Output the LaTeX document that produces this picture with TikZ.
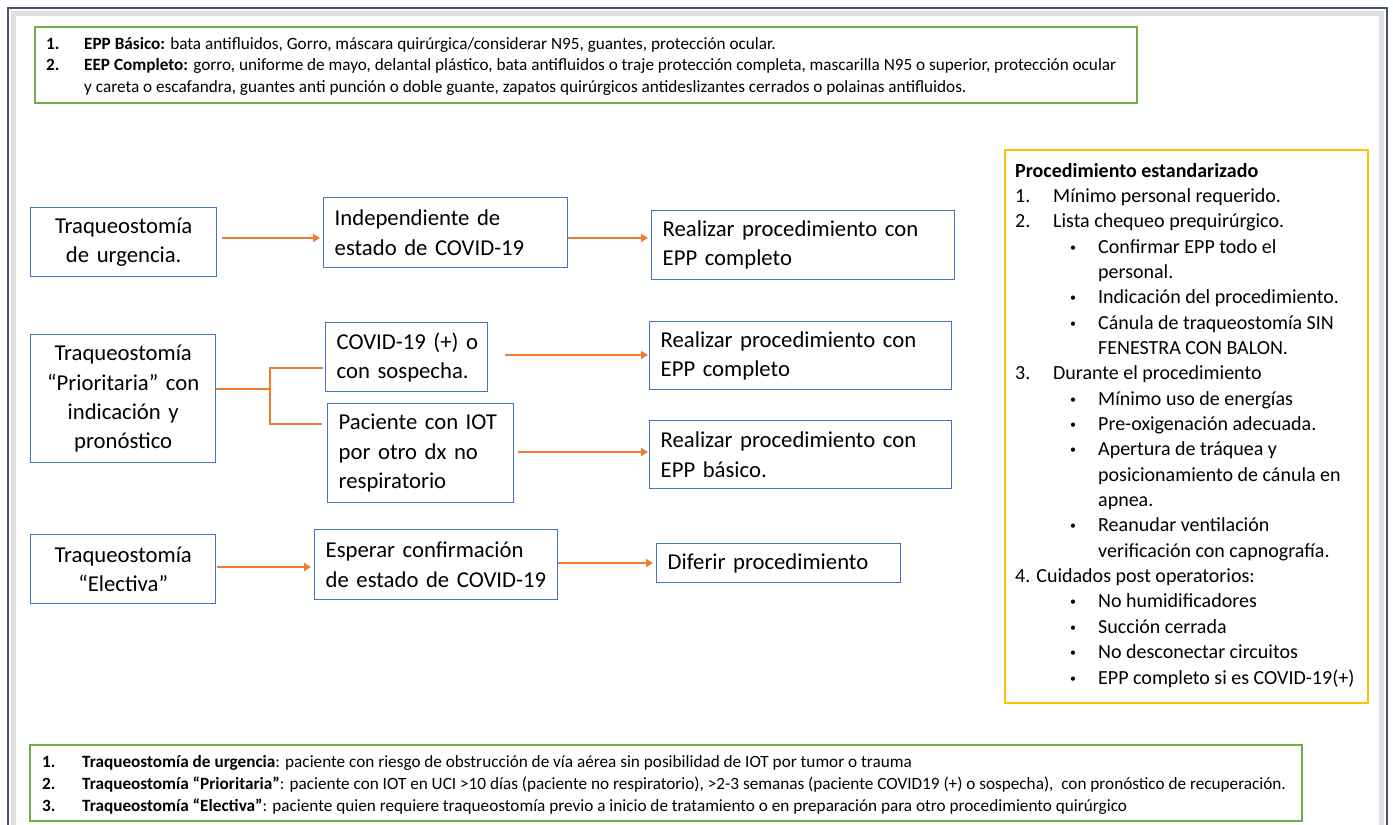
\documentclass[tikz,border=0pt]{standalone}
\usepackage{fontspec}
\setmainfont{Carlito}
\usetikzlibrary{arrows.meta}
\definecolor{boxblue}{HTML}{4472C4}
\definecolor{arrorange}{HTML}{ED7D31}
\definecolor{notegreen}{HTML}{70AD47}
\definecolor{noteyellow}{HTML}{FFC000}
\definecolor{framecol}{HTML}{44546A}
\newcommand{\flowfont}{\fontsize{22.7}{29.2}\selectfont}
\newcommand{\sidefont}{\fontsize{20}{25}\selectfont}
\newcommand{\notefont}{\fontsize{17.2}{21}\selectfont}
\tikzset{
  fbox/.style={draw=boxblue, line width=1.4pt, inner xsep=11pt, inner ysep=0pt,
    anchor=north west, font=\flowfont, align=left},
  cbox/.style={fbox, align=center},
  arr/.style={draw=arrorange, line width=2.2pt, -{Triangle[length=7pt,width=8pt]}},
  conn/.style={draw=arrorange, line width=2.2pt},
  noteline/.style={anchor=base west, inner sep=0pt, font=\notefont},
  sideline/.style={anchor=base west, inner sep=0pt, font=\sidefont},
}
\newcommand{\nb}[1]{\makebox[38pt][l]{#1}}
\newcommand{\bl}{\hspace*{55pt}\makebox[28pt][l]{\raisebox{2pt}{\scalebox{0.6}{\textbullet}}}}
\newcommand{\cl}{\hspace*{83pt}}
\begin{document}
\begin{tikzpicture}[x=1pt,y=-1pt]
\clip (0,0) rectangle (1393,825);
\fill[white] (0,0) rectangle (1393,825);
% outer frame with shadow
\draw[black!12, line width=5pt] (13,840) -- (13,13) -- (1381,13) -- (1381,840);
\draw[framecol, line width=2.8pt] (8,840) -- (8,8) -- (1387,8) -- (1387,840);

% top legend
\draw[notegreen, line width=1.2pt] (35,27) rectangle (1137,103);
\node[noteline] (tn1) at (46,49) {\textbf{1.}};
\node[noteline] (tl1) at (84,49) {\textbf{EPP Básico:} bata antifluidos, Gorro, máscara quirúrgica/considerar N95, guantes, protección ocular.};
\node[noteline] (tn2) at (46,70) {\textbf{2.}};
\node[noteline] (tl2) at (84,70) {\textbf{EEP Completo:} gorro, uniforme de mayo, delantal plástico, bata antifluidos o traje protección completa, mascarilla N95 o superior, protección ocular};
\node[noteline] (tl3) at (84,92) {y careta o escafandra, guantes anti punción o doble guante, zapatos quirúrgicos antideslizantes cerrados o polainas antifluidos.};

% bottom legend
\draw[notegreen, line width=1.2pt] (30,745) rectangle (1302,821);
\node[noteline] (bn1) at (42,767) {\textbf{1.}};
\node[noteline] (bl1) at (82,767) {\textbf{Traqueostomía de urgencia}: paciente con riesgo de obstrucción de vía aérea sin posibilidad de IOT por tumor o trauma};
\node[noteline] (bn2) at (42,789) {\textbf{2.}};
\node[noteline] (bl2) at (82,789) {\textbf{Traqueostomía “Prioritaria”}: paciente con IOT en UCI >10 días (paciente no respiratorio), >2-3 semanas (paciente COVID19 (+) o sospecha),\ \ con pronóstico de recuperación.};
\node[noteline] (bn3) at (42,811) {\textbf{3.}};
\node[noteline] (bl3) at (82,811) {\textbf{Traqueostomía “Electiva”}: paciente quien requiere traqueostomía previo a inicio de tratamiento o en preparación para otro procedimiento quirúrgico};

% right panel
\draw[noteyellow, line width=1.4pt] (1005,150) rectangle (1368,703);
\foreach \i/\t in {
 0/{\textbf{Procedimiento estandarizado}},
 1/{\nb{1.}Mínimo personal requerido.},
 2/{\nb{2.}Lista chequeo prequirúrgico.},
 3/{\bl Confirmar EPP todo el},
 4/{\cl personal.},
 5/{\bl Indicación del procedimiento.},
 6/{\bl Cánula de traqueostomía SIN},
 7/{\cl FENESTRA CON BALON.},
 8/{\nb{3.}Durante el procedimiento},
 9/{\bl Mínimo uso de energías},
 10/{\bl Pre-oxigenación adecuada.},
 11/{\bl Apertura de tráquea y},
 12/{\cl posicionamiento de cánula en},
 13/{\cl apnea.},
 14/{\bl Reanudar ventilación},
 15/{\cl verificación con capnografía.},
 16/{4. Cuidados post operatorios:},
 17/{\bl No humidificadores},
 18/{\bl Succión cerrada},
 19/{\bl No desconectar circuitos},
 20/{\bl EPP completo si es COVID-19(+)}}
 {\node[sideline] (r\i) at (1015,{177+25.35*\i}) {\t};}

% flowchart nodes
\node[cbox, minimum width=186pt, minimum height=69pt, text width=164pt] (u1) at (30,207) {Traqueostomía\\de urgencia.};
\node[fbox, minimum width=244pt, minimum height=70pt, text width=222pt] (u2) at (323,197) {Independiente de\\estado de COVID-19};
\node[fbox, minimum width=303pt, minimum height=69pt, text width=281pt] (u3) at (651,210) {Realizar procedimiento con\\EPP completo};

\node[cbox, minimum width=185pt, minimum height=128pt, text width=163pt] (p1) at (30,334) {Traqueostomía\\“Prioritaria” con\\indicación y\\pronóstico};
\node[fbox, minimum width=162pt, minimum height=69pt, text width=140pt] (p2) at (325,322) {\mbox{COVID-19 (+) o}\\con sospecha.};
\node[fbox, minimum width=186pt, minimum height=99pt, text width=164pt] (p3) at (327,403) {Paciente con IOT\\por otro dx no\\respiratorio};
\node[fbox, minimum width=302pt, minimum height=68pt, text width=280pt] (p4) at (649,321) {Realizar procedimiento con\\EPP completo};
\node[fbox, minimum width=302pt, minimum height=68pt, text width=280pt] (p5) at (649,420) {Realizar procedimiento con\\EPP básico.};

\node[cbox, minimum width=185pt, minimum height=69pt, text width=163pt] (e1) at (30,534) {Traqueostomía\\“Electiva”};
\node[fbox, minimum width=243pt, minimum height=70pt, text width=221pt] (e2) at (314,529) {Esperar confirmación\\de estado de COVID-19};
\node[fbox, minimum width=244pt, minimum height=39pt, text width=222pt] (e3) at (656,543) {Diferir procedimiento};

% connector levels
\coordinate (yu) at (0,238);
\coordinate (yp2) at (0,355);
\coordinate (yp3) at (0,452);
\coordinate (ye1) at (0,567);
\coordinate (ye2) at (0,563);
\coordinate (bm) at (270,389);
\coordinate (bt) at (270,368);
\coordinate (bb) at (270,424);

\draw[arr, shorten <=5pt, shorten >=3pt] (u1.east |- yu) -- (u2.west |- yu);
\draw[arr, shorten >=3pt] (u2.east |- yu) -- (u3.west |- yu);
\draw[conn] (p1.east |- bm) -- (bm);
\draw[conn, shorten <=2.5pt, shorten >=5pt] (p2.west |- bt) -- (bt) -- (bb) -- (p3.west |- bb);
\draw[arr, shorten <=17pt, shorten >=1pt] (p2.east |- yp2) -- (p4.west |- yp2);
\draw[arr, shorten <=4pt, shorten >=1pt] (p3.east |- yp3) -- (p5.west |- yp3);
\draw[arr, shorten <=1pt, shorten >=3pt] (e1.east |- ye1) -- (e2.west |- ye1);
\draw[arr, shorten >=3pt] (e2.east |- ye2) -- (e3.west |- ye2);
\end{tikzpicture}
\end{document}
